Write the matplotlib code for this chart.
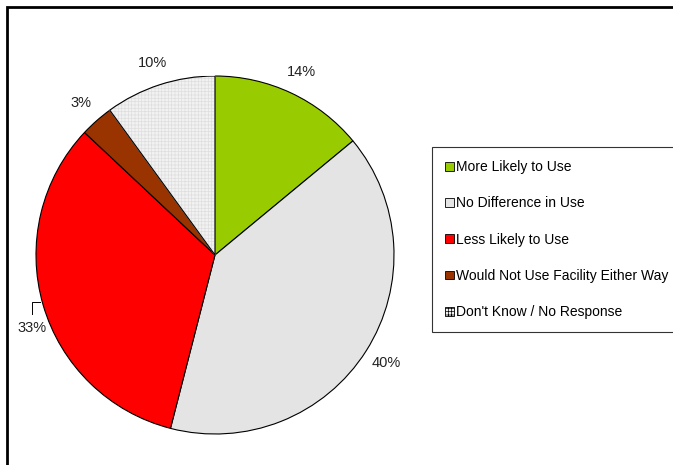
import matplotlib.pyplot as plt
import matplotlib.patches as mpatches
import numpy as np

plt.rcParams['font.family'] = ['Liberation Sans', 'DejaVu Sans']
plt.rcParams['hatch.linewidth'] = 0.5

# survey responses (percent)
categories = ['More Likely to Use', 'No Difference in Use', 'Less Likely to Use',
              'Would Not Use Facility Either Way', "Don't Know / No Response"]
shares = [14, 40, 33, 3, 10]
colors = ['#99cc00', '#e4e4e4', '#ff0000', '#993300', '#f2f2f2']
hatches = [None, None, None, None, '+++++']

fig = plt.figure(figsize=(6.73, 4.65), dpi=100)

# chart area frame (runs off the right and bottom edges)
frame = mpatches.Rectangle((7 / 673, -0.1), 1.2, (465 - 7) / 465 + 0.1,
                           transform=fig.transFigure, fill=False,
                           edgecolor='black', linewidth=2, zorder=0)
fig.patches.append(frame)

ax = fig.add_axes([36 / 673, 31 / 465, 358 / 673, 358 / 465])
wedges, texts, pcts = ax.pie(shares, colors=colors, startangle=90, counterclock=False,
                             autopct='%1.0f%%', pctdistance=1.13,
                             wedgeprops=dict(edgecolor='black', linewidth=0.8),
                             textprops=dict(fontsize=10.5, color='#222222'))
for w, h in zip(wedges, hatches):
    if h:
        w.set_hatch(h)
        w.set_edgecolor('#dedede')
        # redraw the outline in black on top of the hatch
        ax.add_patch(mpatches.Wedge(w.center, w.r, w.theta1, w.theta2,
                                    fill=False, edgecolor='black', linewidth=0.8))

# 33% label sits below its slice with a leader line
pcts[2].set_position((-1.02, -0.41))
ax.plot([-0.975, -1.02, -1.02], [-0.265, -0.265, -0.33], color='black',
        linewidth=0.7, clip_on=False)

ax.set_xlim(-1, 1)
ax.set_ylim(-1, 1)
ax.set_aspect('equal')
ax.axis('off')

handles = [mpatches.Patch(facecolor=c, edgecolor='black', linewidth=0.6,
                          hatch=h) for c, h in zip(colors, hatches)]
leg = fig.legend(handles, categories, loc='upper left', mode='expand',
                 bbox_to_anchor=(432 / 673, 1 - 327 / 465, 0.5, 180 / 465),
                 fontsize=10, frameon=True, fancybox=False, edgecolor='black',
                 handlelength=0.6, handleheight=0.6, handletextpad=0.2,
                 labelspacing=1.6, borderpad=0.95, borderaxespad=0)
leg.get_frame().set_linewidth(0.8)

fig.savefig('out.png', dpi=100, facecolor='white')
